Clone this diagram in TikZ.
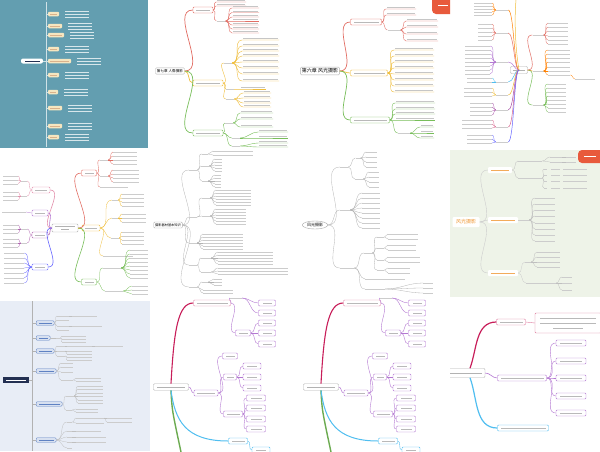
\documentclass[tikz,border=0pt]{standalone}
\usepackage{fontspec}
\newfontfamily\cjk{Noto Sans CJK SC}
\usetikzlibrary{calc,shapes.geometric}

\definecolor{tealbg}{RGB}{99,158,176}
\definecolor{beige}{RGB}{246,230,192}
\definecolor{mapred}{RGB}{226,110,100}
\definecolor{mapyel}{RGB}{240,190,60}
\definecolor{mapgrn}{RGB}{120,190,90}
\definecolor{greenbg}{RGB}{238,243,232}
\definecolor{hotange}{RGB}{240,150,50}
\definecolor{bluebg}{RGB}{232,237,246}
\definecolor{navy}{RGB}{35,48,82}
\definecolor{ibar}{RGB}{95,130,195}
\definecolor{magen}{RGB}{200,30,90}
\definecolor{lilac}{RGB}{180,120,210}
\definecolor{skyb}{RGB}{80,190,240}
\definecolor{badge}{RGB}{232,90,60}

\tikzset{
  tx/.style={gray!45, line width=0.7pt},
  tbar/.style={fill=gray!40, inner sep=0pt, minimum height=1pt},
  lbox/.style={rounded corners=1pt, fill=white, minimum height=6pt, inner sep=0pt, line width=0.4pt},
  rootbox/.style={draw=gray!60, rounded corners=1pt, fill=white, inner sep=1.5pt, font=\cjk\fontsize{3.6}{4}\selectfont},
}

% underlined items
\newcommand{\leaves}[5]{%
  \foreach \yy [count=\k] in {#4}{%
    \coordinate (#2-\k) at (#3,\yy);
    \draw[#1, line width=0.4pt] (#2.east) to[out=0,in=180] (#2-\k) -- ++(#5,0);
    \draw[tx] ($(#2-\k)+(1,-1.6)$) -- ++(#5-2,0);}}
% text items, right side
\newcommand{\tleaves}[5]{%
  \foreach \yy [count=\k] in {#4}{%
    \node[tbar, minimum width=#5, anchor=west] (#2-\k) at (#3,\yy) {};
    \draw[#1, line width=0.3pt] (#2.east) to[out=0,in=180] (#2-\k.west);}}
% text items, left side
\newcommand{\lleaves}[5]{%
  \foreach \yy [count=\k] in {#4}{%
    \node[tbar, minimum width=#5, anchor=east] (#2-\k) at (#3,\yy) {};
    \draw[#1, line width=0.3pt] (#2.west) to[out=180,in=0] (#2-\k.east);}}
% boxed items
\newcommand{\boxleaves}[5]{%
  \foreach \yy [count=\k] in {#4}{%
    \node[lbox, draw=#1, minimum width=#5] (#2-\k) at (#3,\yy) {};
    \draw[#1, line width=0.4pt] (#2.east) to[out=0,in=180] (#2-\k.west);
    \node[tbar, minimum width=#5-8, fill=gray!55] at (#2-\k) {};}}
\newcommand{\branch}[5]{%
  \node[lbox, draw=#2, minimum width=#5] (#1) at (#3,#4) {};
  \node[tbar, fill=gray!55, minimum width=#5-6] at (#1) {};}

\begin{document}
\begin{tikzpicture}[x=1pt, y=-1pt]
\useasboundingbox (0,0) rectangle (600,451);
\fill[white] (0,0) rectangle (600,451);

% tile A
\fill[tealbg] (0,0) rectangle (148,148);
\node[fill=white, rounded corners=2pt, minimum width=22, minimum height=5, inner sep=0pt] (aroot) at (32,61) {};
\node[tbar, fill=navy, minimum width=15] at (aroot) {};
\draw[white!70!tealbg, line width=0.5pt] (46,2) -- (46,147);
\draw[white!70!tealbg] (aroot.east) -- (46,61);
\foreach \y/\w [count=\i] in {14/11,26/14,35/16,49/11,61/23,75/11,92/10,108/14,126/14,137/11}{
  \coordinate (aspine\i) at (46,\y);
  \node[lbox, fill=beige, minimum width=\w, minimum height=4.5, anchor=west] (a\i) at (48,\y) {};
  \draw[white!70!tealbg] (aspine\i) -- (a\i.west);
  \node[tbar, fill=brown!60, minimum width=\w-4] at (a\i) {};
  \foreach \d in {-3,0,3} \draw[white!75!tealbg, line width=0.4pt] (\w+54,\y+\d) -- ++(24,0);}

% tile B
\node[rootbox] (broot) at (170,71) {第七章 人像摄影};
\branch{b1}{mapred}{203}{10}{20}
\branch{b2}{mapyel}{208}{83}{30}
\branch{b3}{mapgrn}{208}{133}{30}
\foreach \n/\c in {b1/mapred,b2/mapyel,b3/mapgrn}
  \draw[\c, line width=0.7pt] (broot.east) to[out=0,in=180] (\n.west);
\leaves{mapred}{b1}{216}{2,6}{30}
\node[tbar, minimum width=9] (b1a) at (221,21) {};
\draw[mapred, line width=0.4pt] (b1.east) to[out=0,in=180] (b1a.west);
\leaves{mapred}{b1a}{232}{8,12.5,17,21,25,29,33}{27}
\node[tbar, minimum width=8] (b2a) at (228,63) {};
\node[tbar, minimum width=8] (b2b) at (230,89) {};
\node[tbar, minimum width=8] (b2c) at (230,99) {};
\foreach \n in {b2a,b2b,b2c} \draw[mapyel, line width=0.4pt] (b2.east) to[out=0,in=180] (\n.west);
\leaves{mapyel}{b2a}{242}{40,46,51,56,62,68,74,81}{37}
\leaves{mapyel}{b2b}{240}{89}{26}
\leaves{mapyel}{b2c}{243}{93,98,103,107}{28}
\node[tbar, minimum width=8] (b3a) at (229,123) {};
\node[tbar, minimum width=8] (b3b) at (236,138) {};
\node[tbar, minimum width=8] (b3c) at (236,146) {};
\foreach \n in {b3a,b3b,b3c} \draw[mapgrn, line width=0.4pt] (b3.east) to[out=0,in=180] (\n.west);
\leaves{mapgrn}{b3a}{240}{113,119,127}{33}
\leaves{mapgrn}{b3b}{258}{132,138}{30}
\leaves{mapgrn}{b3c}{258}{143,147}{30}

% tile C
\node[rootbox, font=\cjk\fontsize{5}{6}\selectfont] (croot) at (320,71) {第六章 风光摄影};
\branch{c1}{mapred}{366}{22}{31}
\branch{c2}{mapyel}{369}{73}{37}
\branch{c3}{mapgrn}{370}{120}{39}
\foreach \n/\c in {c1/mapred,c2/mapyel,c3/mapgrn}
  \draw[\c, line width=0.7pt] (croot.east) to[out=0,in=180] (\n.west);
\leaves{mapred}{c1}{386}{9,15}{30}
\node[tbar, minimum width=13] (c1a) at (394,30) {};
\draw[mapred, line width=0.4pt] (c1.east) to[out=0,in=180] (c1a.west);
\leaves{mapred}{c1a}{406}{21,27,34,41}{32}
\leaves{mapyel}{c2}{394}{50,56,62,68,74,80,86,92}{40}
\leaves{mapgrn}{c3}{395}{103,109,114,120}{40}
\node[tbar, minimum width=12] (c3a) at (404,133) {};
\draw[mapgrn, line width=0.4pt] (c3.east) to[out=0,in=180] (c3a.west);
\leaves{mapgrn}{c3a}{420}{127,133,138}{14}
\begin{scope}
  \clip (300,0) rectangle (450,148);
  \fill[badge, rounded corners=4pt] (432,-5) rectangle (465,14);
  \node[tbar, fill=white, minimum width=10] at (443,5) {};
\end{scope}

% tile D
\node[lbox, draw=gray!60, minimum width=17, minimum height=7] (dc) at (519,70) {};
\node[tbar, fill=gray!60, minimum width=12] at (dc) {};
\foreach \y/\c [count=\i] in {10/orange,33/mapred,62/lilac,82/skyb,95/mapyel,110/violet!70,127/magen!70,142/blue!60}{
  \node[tbar, minimum width=12] (dl\i) at (502,\y) {};
  \draw[\c, line width=0.5pt] (dc.center) .. controls (514,70) and (514,\y) .. (dl\i.east);}
\draw[mapyel, line width=0.5pt] (dc.center) .. controls (514,40) and (515,10) .. (516,0);
\lleaves{orange}{dl1}{492}{3,6,9,12,15}{18}
\lleaves{mapred}{dl2}{492}{24,28,32,36,40}{14}
\lleaves{lilac}{dl3}{490}{46,50,54,58,62,66,70,74}{25}
\lleaves{skyb}{dl4}{492}{78,82}{25}
\lleaves{mapyel}{dl5}{492}{88,92,96}{28}
\lleaves{violet!70}{dl6}{492}{103,107,111,115}{22}
\lleaves{magen!70}{dl7}{492}{120,124,128}{30}
\lleaves{blue!60}{dl8}{492}{135,139,143}{25}
\foreach \y/\c [count=\i] in {35/mapred,71/orange,105/mapgrn}{
  \node[tbar, minimum width=11] (dr\i) at (538,\y) {};
  \draw[\c, line width=0.5pt] (dc.east) to[out=0,in=180] (dr\i.west);}
\tleaves{mapred}{dr1}{548}{23,27,31,36,40,44}{20}
\tleaves{orange}{dr2}{548}{50,54,58,62,67,71,75}{22}
\tleaves{orange}{dr2-7}{575}{79}{20}
\tleaves{mapgrn}{dr3}{548}{84,88,92,96,100,104,108,112}{18}

% tile E
\node[lbox, draw=gray!60, minimum width=26, minimum height=8] (ec) at (65,228) {};
\node[tbar, fill=gray!60, minimum width=20] at ($(ec)+(0,-1.5)$) {};
\node[tbar, fill=gray!60, minimum width=8] at ($(ec)+(0,1.5)$) {};
\branch{e1}{mapred}{89}{173}{15}
\branch{e2}{mapyel}{91}{228}{18}
\branch{e3}{mapgrn}{89}{282}{15}
\foreach \n/\c in {e1/mapred,e2/mapyel,e3/mapgrn}
  \draw[\c, line width=0.6pt] (ec.east) to[out=0,in=180] (\n.west);
\branch{e4}{magen!50}{41}{190}{18}
\branch{e5}{lilac}{40}{213}{16}
\branch{e6}{violet!60}{40}{235}{16}
\branch{e7}{blue!60}{40}{267}{16}
\foreach \n/\c in {e4/magen!50,e5/lilac,e6/violet!60,e7/blue!60}
  \draw[\c, line width=0.6pt] (ec.west) to[out=180,in=0] (\n.east);
\node[tbar, minimum width=8] (e1a) at (104,160) {};
\node[tbar, minimum width=8] (e1b) at (104,176) {};
\foreach \n in {e1a,e1b} \draw[mapred, line width=0.3pt] (e1.east) to[out=0,in=180] (\n.west);
\tleaves{mapred}{e1a}{113}{152,156,160,164}{24}
\tleaves{mapred}{e1b}{113}{170,174,178,182}{26}
\tleaves{mapred}{e1}{100}{187}{28}
\node[tbar, minimum width=6] (e2a) at (115,200) {};
\node[tbar, minimum width=6] (e2b) at (115,218) {};
\node[tbar, minimum width=8] (e2c) at (115,238) {};
\foreach \n in {e2a,e2b,e2c} \draw[mapyel, line width=0.3pt] (e2.east) to[out=0,in=180] (\n.west);
\tleaves{mapyel}{e2a}{122}{194,198,202,206}{22}
\tleaves{mapyel}{e2b}{122}{214,218,222}{24}
\tleaves{mapyel}{e2c}{122}{232,236,240,244}{22}
\tleaves{mapyel}{e2}{103}{256}{30}
\node[tbar, minimum width=18] (e3a) at (112,268) {};
\node[tbar, minimum width=18] (e3b) at (114,291) {};
\foreach \n in {e3a,e3b} \draw[mapgrn, line width=0.3pt] (e3.east) to[out=0,in=180] (\n.west);
\tleaves{mapgrn}{e3a}{130}{250,254,258,262,266,270,274,278}{18}
\tleaves{mapgrn}{e3b}{132}{286,290,294}{16}
\node[tbar, minimum width=6] (e4a) at (24,181) {};
\node[tbar, minimum width=6] (e4b) at (24,196) {};
\foreach \n in {e4a,e4b} \draw[magen!50, line width=0.3pt] (e4.west) to[out=180,in=0] (\n.east);
\lleaves{magen!50}{e4a}{18}{176,180,184}{15}
\lleaves{magen!50}{e4b}{18}{192,196,200}{15}
\lleaves{lilac}{e5}{26}{212}{24}
\node[tbar, minimum width=6] (e6a) at (24,229) {};
\node[tbar, minimum width=6] (e6b) at (24,243) {};
\foreach \n in {e6a,e6b} \draw[violet!60, line width=0.3pt] (e6.west) to[out=180,in=0] (\n.east);
\lleaves{violet!60}{e6a}{18}{225,229,233}{15}
\lleaves{violet!60}{e6b}{18}{239,243,247}{15}
\lleaves{blue!60}{e7}{24}{253,258,263,268,273,278,283}{20}

% tile F
\node[rootbox, font=\cjk\fontsize{3.2}{4}\selectfont] (froot) at (168,225) {摄影器材基本知识};
\foreach \n/\y in {f1/170,f2/217,f3/243,f4/265,f5/287}{
  \node[tbar, minimum width=8] (\n) at (193,\y) {};
  \draw[gray!60, line width=0.3pt] (froot.east) to[out=0,in=180] (\n.west);}
\node[tbar, minimum width=6] (f1a) at (205,154) {};
\node[tbar, minimum width=8] (f1b) at (205,166) {};
\node[tbar, minimum width=6] (f1c) at (205,181) {};
\node[tbar, minimum width=8] (f2a) at (206,198) {};
\node[tbar, minimum width=8] (f2b) at (206,216) {};
\node[tbar, minimum width=10] (f4a) at (206,258) {};
\node[tbar, minimum width=10] (f4b) at (206,272) {};
\node[tbar, minimum width=6] (f5a) at (205,282) {};
\foreach \p/\n in {f1/f1a,f1/f1b,f1/f1c,f2/f2a,f2/f2b,f4/f4a,f4/f4b,f5/f5a}
  \draw[gray!60, line width=0.3pt] (\p.east) to[out=0,in=180] (\n.west);
\tleaves{gray!60}{f1a}{213}{151,155}{40}
\tleaves{gray!60}{f1b}{215}{159,162,165,168,171}{7}
\tleaves{gray!60}{f1c}{215}{175,178,181,184,187}{6}
\tleaves{gray!60}{f2a}{216}{190,193,196,199,202,205}{35}
\tleaves{gray!60}{f2b}{216}{209,212,215,218,221,224}{30}
\tleaves{gray!60}{f3}{203}{234,237,240,243,246,249}{40}
\tleaves{gray!60}{f4a}{218}{252,255,258,261,264}{55}
\tleaves{gray!60}{f4b}{218}{268,271,274}{70}
\tleaves{gray!60}{f5a}{214}{279,282,285}{8}
\tleaves{gray!60}{f5}{203}{290,293}{30}

% tile G
\node[ellipse, draw=gray!70, fill=white, inner sep=1pt, font=\cjk\fontsize{4}{5}\selectfont] (groot) at (315,225) {风光摄影};
\node[tbar, minimum width=8] (g1) at (344,167) {};
\node[tbar, minimum width=10] (g2) at (345,210) {};
\node[tbar, minimum width=14] (g3) at (347,268) {};
\foreach \n in {g1,g2,g3} \draw[gray!60, line width=0.3pt] (groot.east) to[out=0,in=180] (\n.west);
\node[tbar, minimum width=5] (g1a) at (358,158) {};
\node[tbar, minimum width=8] (g1b) at (359,179) {};
\node[tbar, minimum width=8] (g3a) at (368,253) {};
\node[tbar, minimum width=20] (g3b) at (375,289) {};
\foreach \p/\n in {g1/g1a,g1/g1b,g3/g3a,g3/g3b}
  \draw[gray!60, line width=0.3pt] (\p.east) to[out=0,in=180] (\n.west);
\tleaves{gray!60}{g1a}{366}{152,157,162,167}{11}
\tleaves{gray!60}{g1b}{369}{172,177,182,187}{10}
\tleaves{gray!60}{g2}{362}{193,198,203,208,213,218,223,228}{18}
\tleaves{gray!60}{g3a}{377}{237,248,260,270}{7}
\tleaves{gray!60}{g3a-1}{388}{234,239}{30}
\tleaves{gray!60}{g3a-2}{388}{245,250}{28}
\tleaves{gray!60}{g3a-3}{388}{257,262}{32}
\tleaves{gray!60}{g3a-4}{388}{268,273}{22}
\tleaves{gray!60}{g3}{365}{279}{40}
\tleaves{gray!60}{g3b}{423}{283,288,293}{10}

% tile H
\fill[greenbg] (450,150) rectangle (600,297);
\node[lbox, minimum width=27, minimum height=10, font=\cjk\fontsize{5}{6}\selectfont, text=hotange] (hroot) at (466,222) {风光摄影};
\foreach \n/\y/\w in {h1/170/24,h2/220/30,h3/273/30}{
  \node[lbox, minimum width=\w, minimum height=6] (\n) at (488+\w/2,\y) {};
  \node[tbar, fill=hotange!80, minimum width=\w-6] at (\n) {};
  \draw[gray!40, line width=0.4pt] (hroot.east) to[out=0,in=180] (\n.west);}
\tleaves{gray!50}{h1}{518}{161,178}{24}
\tleaves{gray!50}{h1-1}{550}{157,162}{12}
\tleaves{gray!50}{h1-1-1}{566}{157}{10}
\tleaves{gray!50}{h1-1-2}{566}{162}{10}
\tleaves{gray!50}{h1-2}{544}{169,175,181,188}{3}
\foreach \y in {169,175,181,188}{
  \node[tbar, minimum width=9, anchor=west] at (551,\y) {};
  \node[tbar, minimum width=24, anchor=west] at (563,\y) {};}
\node[tbar, minimum width=6] (h2a) at (526,220) {};
\draw[gray!40, line width=0.3pt] (h2.east) -- (h2a.west);
\tleaves{gray!50}{h2a}{535}{198,204,210,216,223,229,235,241}{20}
\node[tbar, minimum width=6] (h3a) at (528,262) {};
\node[tbar, minimum width=12] (h3b) at (532,283) {};
\foreach \n in {h3a,h3b} \draw[gray!40, line width=0.3pt] (h3.east) to[out=0,in=180] (\n.west);
\tleaves{gray!50}{h3a}{537}{252,257,262,267}{23}
\node[tbar, minimum width=12] (h3c) at (550,283) {};
\draw[gray!40, line width=0.3pt] (h3b.east) -- (h3c.west);
\tleaves{gray!50}{h3c}{562}{277,283,290}{10}
\begin{scope}
  \clip (450,150) rectangle (600,297);
  \fill[badge, rounded corners=4pt] (578,150) rectangle (610,163);
  \node[tbar, fill=white, minimum width=12] at (590,156) {};
\end{scope}

% tile I
\fill[bluebg] (0,301) rectangle (150,451);
\node[fill=navy, minimum width=26, minimum height=6, inner sep=0pt] (iroot) at (16,380) {};
\node[tbar, fill=white, minimum width=20] at (iroot) {};
\draw[gray!60, line width=0.4pt] (32,301) -- (32,451);
\draw[gray!60, line width=0.4pt] (iroot.east) -- (32,380);
\foreach \y/\w [count=\i] in {323/18,338/14,351/18,371/20,404/26,440/20}{
  \coordinate (ispine\i) at (32,\y);
  \node[lbox, fill=ibar!25, draw=ibar, minimum width=\w, minimum height=4.5, anchor=west] (i\i) at (36,\y) {};
  \draw[gray!60, line width=0.4pt] (ispine\i) -- (i\i.west);
  \node[tbar, fill=ibar, minimum width=\w-5] at (i\i) {};}
\tleaves{gray!50}{i1}{57}{316,320,326,330}{12}
\tleaves{gray!50}{i1-1}{72}{316}{25}
\tleaves{gray!50}{i1-3}{72}{326}{30}
\tleaves{gray!50}{i2}{56}{338}{4}
\tleaves{gray!50}{i2-1}{62}{336,339,342}{24}
\tleaves{gray!50}{i3}{57}{346,351,356}{8}
\tleaves{gray!50}{i3-1}{67}{346}{25}
\tleaves{gray!50}{i3-1-1}{95}{346}{28}
\tleaves{gray!50}{i3-2}{67}{351,354}{25}
\tleaves{gray!50}{i3-3}{67}{357,360}{25}
\tleaves{gray!50}{i4}{61}{363,367,372,380}{12}
\tleaves{gray!50}{i4-4}{76}{378,381}{25}
\node[tbar, minimum width=8] (i5a) at (70,396) {};
\node[tbar, minimum width=6] (i5b) at (69,410) {};
\foreach \n in {i5a,i5b} \draw[gray!50, line width=0.3pt] (i5.east) to[out=0,in=180] (\n.west);
\tleaves{gray!50}{i5a}{78}{386,389,393,396,400,403}{25}
\tleaves{gray!50}{i5b}{76}{409,412}{22}
\tleaves{gray!50}{i6}{67}{422,431,437,442,448}{5}
\tleaves{gray!50}{i6-1}{76}{418,423}{28}
\tleaves{gray!50}{i6-1-1}{107}{418,422}{25}
\tleaves{gray!50}{i6-2}{76}{431}{25}
\tleaves{gray!50}{i6-3}{76}{437}{30}
\tleaves{gray!50}{i6-4}{76}{442}{30}

% tiles J and K
\foreach \dx in {0,150}{
\begin{scope}[xshift=\dx]
  \node[lbox, draw=gray!60, minimum width=35, minimum height=6.5] (jroot) at (171,387) {};
  \node[tbar, fill=gray!60, minimum width=28] at (jroot) {};
  \branch{j1}{magen!50}{212}{303}{37}
  \branch{j2}{lilac}{206}{393}{24}
  \branch{j3}{skyb}{238}{441}{19}
  \coordinate (jgreen) at (181,452);
  \draw[mapgrn!90!black, line width=1.4pt] (jroot.south) .. controls (172,410) .. (jgreen);
  \draw[magen, line width=1.1pt] (jroot.north) .. controls (174,330) and (178,303) .. (j1.west);
  \draw[lilac, line width=0.5pt] (jroot.east) to[out=0,in=180] (j2.west);
  \draw[skyb, line width=1pt] (jroot.south) .. controls (175,420) and (185,441) .. (j3.west);
  \node[tbar, minimum width=12] (j1b) at (236,298) {};
  \branch{j1a}{lilac}{243}{333}{15}
  \foreach \n in {j1a,j1b} \draw[lilac, line width=0.4pt] (j1.east) to[out=0,in=180] (\n.west);
  \boxleaves{lilac}{j1b}{267}{303,313}{17}
  \boxleaves{lilac}{j1a}{267}{323,333,344}{17}
  \branch{j2a}{lilac}{230}{356}{15}
  \branch{j2b}{lilac}{230}{377}{13}
  \branch{j2c}{lilac}{233}{414}{19}
  \foreach \n in {j2a,j2b,j2c} \draw[lilac, line width=0.4pt] (j2.east) to[out=0,in=180] (\n.west);
  \boxleaves{lilac}{j2b}{252}{366,377,388}{18}
  \boxleaves{lilac}{j2c}{256}{398,408,419,429}{19}
  \boxleaves{skyb}{j3}{261}{450}{18}
\end{scope}}

% tile L
\begin{scope}
  \clip (450,300) rectangle (600,451);
  \node[lbox, draw=gray!60, minimum width=38, minimum height=9] (lroot) at (466,373) {};
  \node[tbar, fill=gray!60, minimum width=32] at (lroot) {};
  \branch{l1}{magen!60}{511}{322}{29}
  \node[lbox, draw=magen!60, minimum width=66, minimum height=20] (l1a) at (568,323) {};
  \foreach \d/\w in {-5/56,0/56,5/30} \node[tbar, fill=gray!55, minimum width=\w] at ($(l1a)+(0,\d)$) {};
  \draw[magen!60, line width=0.4pt] (l1.east) -- (l1a.west);
  \branch{l2}{lilac}{522}{378}{49}
  \boxleaves{lilac}{l2}{571}{343,361,378,396,413}{30}
  \branch{l3}{skyb}{523}{428}{51}
  \draw[magen, line width=1.2pt] ([xshift=4pt]lroot.north) to[out=70,in=180] (l1.west);
  \draw[lilac, line width=0.6pt] (lroot.east) to[out=0,in=180] (l2.west);
  \draw[skyb, line width=1.2pt] ([xshift=4pt]lroot.south) to[out=-70,in=180] (l3.west);
\end{scope}
\end{tikzpicture}
\end{document}
